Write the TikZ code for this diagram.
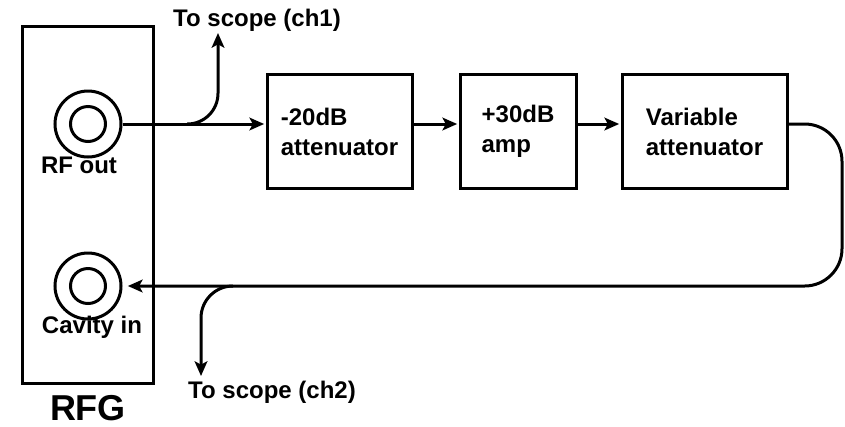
\documentclass[tikz,border=0pt]{standalone}
\usepackage{fontspec}
\setmainfont{Liberation Sans}
\usetikzlibrary{arrows.meta}

\tikzset{
  blk/.style={draw, align=left, font=\fontsize{18}{22.5}\selectfont\bfseries, minimum height=85.5pt},
  lbl/.style={font=\fontsize{18}{22.5}\selectfont\bfseries, inner sep=0pt},
  port/.style={draw, circle, inner sep=0pt},
}

\begin{document}
\begin{tikzpicture}[x=0.75pt, y=-0.75pt, line width=2.25pt, >={Stealth[length=11pt,width=9.5pt,inset=2.5pt]}]
\useasboundingbox (0,0) rectangle (845,426);
% generator
\node[draw, minimum width=98.25pt, minimum height=267.75pt] (rfg) at (87.5,204.5) {};
\node[font=\fontsize{27}{32}\selectfont\bfseries] (rfgname) at (88,408) {RFG};
\node[port, minimum size=49.5pt] (rfout) at (88,124) {};
\node[port, minimum size=26.25pt] (rfoutpin) at (rfout) {};
\node[lbl] (rfoutname) at (79,165) {RF out};
\node[port, minimum size=49.5pt] (cavin) at (88,286) {};
\node[port, minimum size=26.25pt] (cavinpin) at (cavin) {};
\node[lbl] (cavinname) at (92,327) {Cavity in};

% chain
\node[blk, minimum width=108.75pt] (att) at (339.5,131.5) {-20dB\\attenuator};
\node[blk, minimum width=87pt] (amp) at (518,131.5) {+30dB\\amp};
\node[blk, minimum width=123.75pt] (var) at (704.5,131.5) {Variable\\attenuator};
\draw[->, shorten >=1pt] (rfout.east) -- (rfout.east -| att.west);
\draw[->, shorten >=1pt] (att.east |- rfout) -- (amp.west |- rfout);
\draw[->, shorten >=1pt] (amp.east |- rfout) -- (var.west |- rfout);

% back to cavity
\coordinate (bend) at (842,124);
\draw[->, rounded corners=28pt, shorten >=4pt] (var.east |- rfout) -- (bend) |- (cavin.east);

% scope taps
\coordinate (tap1) at (187,124);
\coordinate (scope1) at (218,33);
\node[lbl] (scope1name) at (257,20) {To scope (ch1)};
\draw[->, rounded corners=23pt] (tap1) -| (scope1);
\coordinate (tap2) at (233,286);
\coordinate (scope2) at (201,376);
\node[lbl] (scope2name) at (272,392) {To scope (ch2)};
\draw[->, rounded corners=24pt] (tap2) -| (scope2);
\end{tikzpicture}
\end{document}
